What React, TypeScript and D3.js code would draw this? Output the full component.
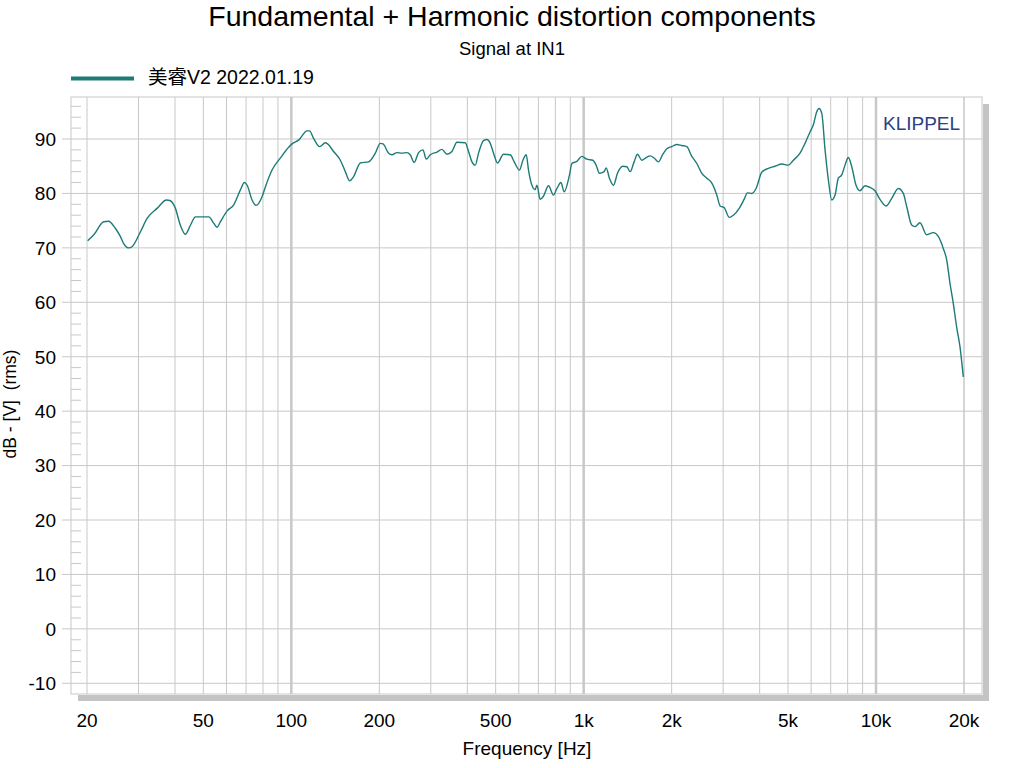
import React from "react";
import * as d3 from "d3";

const freqs = [
  20.1, 21.1, 22.8, 23.7, 25.0, 26.0, 26.7, 27.8, 28.5, 30.5, 32.1, 34.8, 37.4, 38.4, 40.1, 41.7, 43.4, 45.2, 47.0,
  52.2, 54.3, 55.7, 57.2, 60.3, 63.5, 66.9, 69.1, 70.6, 73.4, 75.7, 79.4, 81.5, 85.9, 91.7, 97.9,
  100.6, 105.9, 113.2, 115.5, 119.2, 125, 130.7, 133.1, 139.5, 147.1, 153, 158.3, 163.3, 172.2, 183.8, 193.8,
  201.5, 205.9, 215.1, 221, 229.9, 239, 248.6, 255.1, 263.3, 272.4, 282, 289.4, 298.7, 314.9, 327.5, 340.7,
  354.4, 368.6, 393.5, 403.9, 414.8, 425.7, 436.9, 454.4, 466.8, 479.1, 491.7, 507.4, 531.9, 560.8, 578.7,
  603.4, 619.7, 636, 647.6, 665.2, 682.7, 691.8, 710.1, 728.8, 758.1, 788.5, 809.9, 835.9, 857.8, 894.4,
  911.5, 948, 985.9, 1025, 1075, 1103, 1132, 1175, 1194, 1225, 1265, 1305, 1361, 1405, 1442, 1488, 1528,
  1581, 1636, 1688, 1742, 1802, 1866, 1925, 2002, 2083, 2166, 2253, 2344, 2438, 2536, 2638, 2744, 2854,
  2929, 3023, 3151, 3252, 3409, 3538, 3631, 3758, 3888, 4067, 4284, 4515, 4760, 5015, 5217, 5497, 5718,
  5948, 6105, 6271, 6385, 6524, 6695, 6871, 7057, 7243, 7433, 7635, 7834, 8044, 8261, 8545, 8815, 9169,
  9539, 9922, 10320, 10820, 11320, 11920, 12400, 12735, 13243, 13592, 14138, 14905, 15703, 16333, 16990,
  17450, 17910, 18380, 18870, 19380, 19890,
];

const levels = [
  71.3, 72.4, 74.8, 74.9, 73.6, 72.1, 70.8, 70.0, 70.2, 73.0, 75.4, 77.3, 78.8, 78.7, 77.3, 74.2, 72.5, 74.2, 75.7,
  75.7, 74.5, 73.8, 74.8, 76.8, 77.9, 80.6, 82.0, 81.5, 78.8, 77.8, 79.4, 81.2, 84.3, 86.5, 88.5,
  89.1, 89.8, 91.5, 91.5, 90.1, 88.6, 89.3, 89.1, 87.7, 86.1, 84.0, 82.3, 83.1, 85.6, 85.8, 87.4,
  89.2, 89.1, 87.4, 87.1, 87.5, 87.4, 87.5, 87.1, 85.7, 87.5, 88.0, 86.3, 87.1, 87.6, 88.1, 87.2,
  87.7, 89.4, 89.3, 87.7, 85.8, 85.2, 87.4, 89.7, 89.9, 89.2, 87.4, 85.6, 87.2, 87.1, 85.8,
  84.3, 86.1, 87.1, 84.3, 81.5, 80.7, 81.5, 78.9, 79.5, 81.4, 79.7, 80.9, 82.0, 80.3, 83.4,
  85.5, 85.9, 86.8, 86.3, 86.1, 85.2, 83.7, 84.0, 84.7, 82.8, 81.5, 83.7, 85.0, 84.9, 84.0, 85.8, 87.2,
  86.1, 86.6, 86.9, 86.5, 85.8, 87.2, 88.2, 88.6, 89.0, 88.8, 88.6, 86.8, 85.5, 83.7, 82.8, 81.9, 79.7,
  77.7, 77.4, 75.6, 76.0, 77.3, 78.9, 80.1, 80.0, 80.9, 83.9, 84.6, 85.0, 85.4, 85.2, 86.1, 87.4, 89.2,
  91.3, 92.6, 95.0, 95.6, 94.7, 88.0, 82.5, 78.8, 79.7, 82.8, 83.4, 85.2, 86.6, 84.9, 81.5, 80.5, 81.4,
  81.1, 80.5, 78.9, 77.7, 79.1, 80.9, 80.0, 77.6, 74.2, 73.9, 74.6, 72.4, 72.8, 72.1, 69.9,
  67.8, 63.5, 59.8, 55.5, 51.8, 46.3,
];

const xTickValues = [20, 50, 100, 200, 500, 1000, 2000, 5000, 10000, 20000];
const xTickLabels = ["20", "50", "100", "200", "500", "1k", "2k", "5k", "10k", "20k"];
const yTickValues = [-10, 0, 10, 20, 30, 40, 50, 60, 70, 80, 90];

const title = "Fundamental + Harmonic distortion components";
const subtitle = "Signal at IN1";
const legendLabel = "美睿V2 2022.01.19";
const xLabel = "Frequency [Hz]";
const yLabel = "dB - [V]  (rms)";

const FONT = "Arial, 'Liberation Sans', 'Noto Sans CJK SC', sans-serif";
const LINE = "#1d7b78";
const GRID = "#c8c8c8";

export default function App() {
  const left = 71, right = 982, top = 97, bottom = 694;
  const x = d3.scaleLog().domain([20, 20000]).range([87, 964]);
  const y = d3.scaleLinear().domain([-10, 90]).range([683.3, 139]);

  const gridFreqs: number[] = [];
  for (let dec = 10; dec <= 10000; dec *= 10) {
    for (let m = 1; m <= 9; m++) {
      const f = dec * m;
      if (f >= 20 && f <= 20000) gridFreqs.push(f);
    }
  }
  gridFreqs.push(20000);

  const minorY: number[] = [];
  for (let v = -12; v <= 98; v += 2) {
    if (v % 10 !== 0) {
      const py = y(v);
      if (py > top + 1 && py < bottom - 1) minorY.push(v);
    }
  }

  const data = freqs.map((f, i) => [f, levels[i]] as [number, number]);
  const line = d3
    .line<[number, number]>()
    .x((d) => x(d[0]))
    .y((d) => y(d[1]))
    .curve(d3.curveMonotoneX);

  const isDecade = (f: number) => f === 100 || f === 1000 || f === 10000;

  return (
    <svg
      width={1024}
      height={768}
      style={{ position: "absolute", left: 0, top: 0, background: "#fff" }}
      fontFamily={FONT}
    >
      <rect x={0} y={0} width={1024} height={768} fill="#fff" />
      <text x={512} y={26} textAnchor="middle" fontSize={28.5} fill="#000">
        {title}
      </text>
      <text x={512} y={55} textAnchor="middle" fontSize={18.5} fill="#000">
        {subtitle}
      </text>

      {/* legend */}
      <line x1={71} x2={134} y1={78.5} y2={78.5} stroke={LINE} strokeWidth={4} />
      <text x={148} y={84} fontSize={19.5} fill="#000">
        {legendLabel}
      </text>

      {/* shadow */}
      <rect x={78} y={bottom + 1} width={right + 6 - 78} height={6} fill="#c4c4c4" />
      <rect x={right + 1} y={104} width={6} height={bottom + 7 - 104} fill="#c4c4c4" />

      {/* plot background */}
      <rect x={left} y={top} width={right - left} height={bottom - top} fill="#fff" stroke={GRID} strokeWidth={1} />

      {/* vertical grid */}
      {gridFreqs.map((f) => (
        <line
          key={"vx" + f}
          x1={x(f)}
          x2={x(f)}
          y1={top}
          y2={bottom}
          stroke={GRID}
          strokeWidth={isDecade(f) ? 2.5 : 1}
        />
      ))}

      {/* horizontal grid */}
      {yTickValues.map((v) => (
        <line key={"hy" + v} x1={62} x2={right} y1={y(v)} y2={y(v)} stroke={GRID} strokeWidth={1} />
      ))}

      {/* minor y ticks */}
      {minorY.map((v) => (
        <line key={"my" + v} x1={left} x2={left + 10} y1={y(v)} y2={y(v)} stroke={GRID} strokeWidth={1} />
      ))}

      {/* y labels */}
      {yTickValues.map((v) => (
        <text key={"yl" + v} x={56} y={y(v)} dy="0.36em" textAnchor="end" fontSize={19} fill="#000">
          {v}
        </text>
      ))}

      {/* x labels */}
      {xTickValues.map((f, i) => (
        <text key={"xl" + f} x={x(f)} y={727} textAnchor="middle" fontSize={19} fill="#000">
          {xTickLabels[i]}
        </text>
      ))}

      <text x={527} y={755} textAnchor="middle" fontSize={19} fill="#000">
        {xLabel}
      </text>
      <text
        transform={`translate(16, 404) rotate(-90)`}
        textAnchor="middle"
        fontSize={17.5}
        fill="#000"
        style={{ whiteSpace: "pre" }}
      >
        {yLabel}
      </text>

      {/* KLIPPEL */}
      <text x={883} y={130} fontSize={19} fill="#2b4184">
        KLIPPEL
      </text>

      {/* curve */}
      <path d={line(data) ?? ""} fill="none" stroke={LINE} strokeWidth={1.4} />
    </svg>
  );
}
